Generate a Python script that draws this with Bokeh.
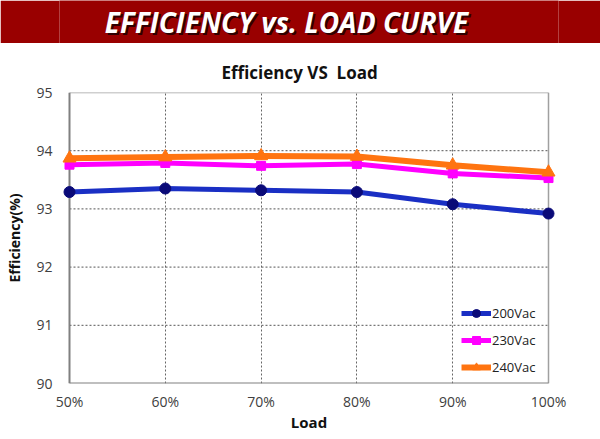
from bokeh.plotting import figure
from bokeh.models import Range1d, FixedTicker, PrintfTickFormatter, Legend, LegendItem, Label
from bokeh.layouts import column
from bokeh.embed import file_html
from bokeh.resources import INLINE

# ---- data ----
loads = [50, 60, 70, 80, 90, 100]
eff_200 = [93.29, 93.35, 93.32, 93.29, 93.08, 92.92]
eff_230 = [93.76, 93.79, 93.74, 93.77, 93.61, 93.53]
eff_240 = [93.87, 93.89, 93.91, 93.90, 93.75, 93.63]
y_ticks = [90, 91, 92, 93, 94, 95]
series_names = ["200Vac", "230Vac", "240Vac"]

FONT = "Open Sans"
W = 600
BL, BR = 59, 42   # left/right borders shared by both figures

# ---- banner ----
banner = figure(width=W, height=43, x_range=(0, 1), y_range=(0, 1),
                toolbar_location=None, output_backend="svg",
                x_axis_type=None, y_axis_type=None,
                min_border_left=BL, min_border_right=BR, min_border_top=0, min_border_bottom=0)
banner.grid.visible = False
banner.outline_line_color = None
banner.background_fill_color = "#990000"
banner.border_fill_color = "#990000"
banner_text = "EFFICIENCY vs. LOAD CURVE"
banner.add_layout(Label(x=229, y=20, x_units="screen", y_units="screen", text=banner_text,
                        text_color="#300000", text_align="center", text_baseline="middle",
                        text_font_size="28px", text_font_style="bold italic", text_font=FONT))
banner.add_layout(Label(x=227, y=22, x_units="screen", y_units="screen", text=banner_text,
                        text_color="white", text_align="center", text_baseline="middle",
                        text_font_size="28px", text_font_style="bold italic", text_font=FONT))

# ---- chart ----
pad_px = 10
px_per_unit = 479 / (loads[-1] - loads[0])
x0 = loads[0] - pad_px / px_per_unit
x1 = loads[-1] + pad_px / px_per_unit

p = figure(width=W, height=396, x_range=Range1d(x0, x1), y_range=Range1d(y_ticks[0], y_ticks[-1]),
           toolbar_location=None, output_backend="svg",
           min_border_left=BL, min_border_right=BR, min_border_top=49, min_border_bottom=56,
           title="Efficiency VS\u00a0 Load")
p.outline_line_color = None
p.background_fill_color = "white"
p.border_fill_color = "white"
p.title.align = "left"
p.title.offset = 162
p.title.text_font = FONT
p.title.text_font_size = "17px"
p.title.text_font_style = "bold"
p.title.text_color = "#111111"
p.title.standoff = 17

# axes
p.xaxis.ticker = FixedTicker(ticks=loads)
p.xaxis.formatter = PrintfTickFormatter(format="%d%%")
p.yaxis.ticker = FixedTicker(ticks=y_ticks)
for ax in (p.xaxis, p.yaxis):
    ax.axis_line_color = None
    ax.major_tick_line_color = None
    ax.minor_tick_line_color = None
    ax.major_tick_out = 0
    ax.major_tick_in = 0
    ax.minor_tick_out = 0
    ax.minor_tick_in = 0
    ax.major_label_text_font = FONT
    ax.major_label_text_font_size = "14px"
    ax.major_label_text_color = "#404040"
    ax.axis_label_text_font = FONT
    ax.axis_label_text_font_style = "bold"
    ax.axis_label_text_color = "#111111"
p.xaxis.axis_label = "Load"
p.yaxis.axis_label = "Efficiency(%)"
p.xaxis.axis_label_text_font_size = "15px"
p.yaxis.axis_label_text_font_size = "14px"
p.xaxis.major_label_standoff = 8
p.xaxis.axis_label_standoff = -2
p.yaxis.major_label_standoff = 7
p.yaxis.axis_label_standoff = 9

# grid
p.xgrid.ticker = FixedTicker(ticks=loads[1:-1])
p.xgrid.grid_line_color = "#666666"
p.xgrid.grid_line_dash = "2 2"
p.xgrid.grid_line_width = 1
p.ygrid.visible = False
inner_y = y_ticks[1:-1]
p.segment(x0=[loads[0]] * len(inner_y), x1=[loads[-1]] * len(inner_y), y0=inner_y, y1=inner_y,
          line_color="#555555", line_dash="2 2", line_width=1)

# plot box
p.segment(x0=[loads[-1], loads[0]], x1=[loads[-1], loads[-1]],
          y0=[y_ticks[0], y_ticks[-1]], y1=[y_ticks[-1], y_ticks[-1]],
          line_color="#a0a0a0", line_width=1.5)
p.segment(x0=[loads[0], loads[0]], x1=[loads[0], loads[-1]],
          y0=[y_ticks[0], y_ticks[0]], y1=[y_ticks[-1], y_ticks[0]],
          line_color="#808080", line_width=2)

# series
l1 = p.line(loads, eff_200, line_color="#1a2fc4", line_width=5)
m1 = p.scatter(loads, eff_200, marker="circle", size=11, fill_color="#0a0a78", line_color="#0a0a78")
l2 = p.line(loads, eff_230, line_color="#ff00ff", line_width=5)
m2 = p.scatter(loads, eff_230, marker="square", size=9, fill_color="#ff00ff", line_color="#ff00ff")
l3 = p.line(loads, eff_240, line_color="#ff7410", line_width=6)
m3 = p.scatter(loads, eff_240, marker="triangle", size=13, fill_color="#ff7410", line_color="#ff7410")

legend = Legend(items=[LegendItem(label=series_names[0], renderers=[l1, m1]),
                       LegendItem(label=series_names[1], renderers=[l2, m2]),
                       LegendItem(label=series_names[2], renderers=[l3, m3])],
                location=(402, 6))
legend.background_fill_alpha = 0
legend.border_line_color = None
legend.padding = 0
legend.margin = 0
legend.spacing = 7
legend.glyph_width = 30
legend.glyph_height = 20
legend.label_height = 20
legend.label_standoff = 1
legend.label_text_font = FONT
legend.label_text_font_size = "13px"
legend.label_text_color = "#222222"
p.add_layout(legend)

open("out.html", "w").write(file_html(column(banner, p, spacing=0), INLINE))
